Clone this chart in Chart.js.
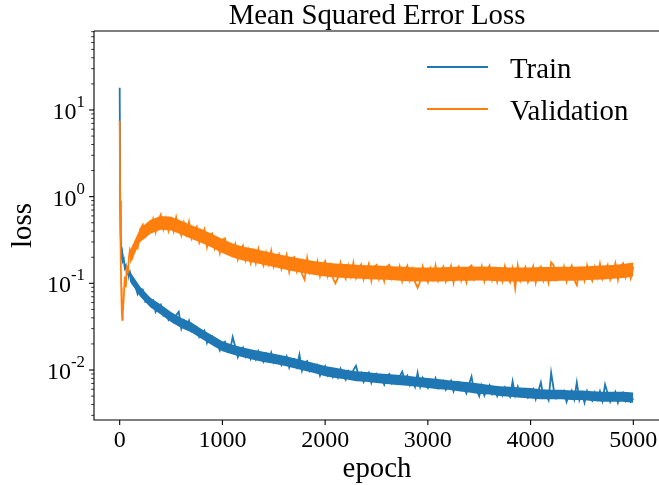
<!DOCTYPE html>
<html>
<head>
<meta charset="utf-8">
<script src="https://cdn.jsdelivr.net/npm/chart.js@4/dist/chart.umd.min.js"></script>
<style>
    body { margin: 0; background: #ffffff; }
    canvas { display: block; }
</style>
</head>
<body>
<canvas id="lossChart" width="659" height="485"></canvas>
<script>
// Epochs: dense at the start, then every 25 epochs
const earlyEpochs = [0, 5, 10, 15, 20, 25, 30, 40, 50, 60, 70, 80, 90];
const epochs = [...earlyEpochs];
for (let e = 100; e <= 5000; e += 25) epochs.push(e);

// noise band edges are read every 100 epochs
const bandEpochs = [];
for (let e = 100; e <= 5000; e += 100) bandEpochs.push(e);

const trainLoss = [
    18, 0.9, 0.35, 0.26, 0.21, 0.22, 0.18, 0.19, 0.15, 0.16, 0.13, 0.145, 0.12,
    0.134, 0.098, 0.095, 0.075, 0.086, 0.085, 0.061, 0.062,
    0.057, 0.063, 0.047, 0.053, 0.057, 0.043, 0.048, 0.038,
    0.043, 0.036, 0.043, 0.047, 0.030, 0.037, 0.031, 0.037,
    0.028, 0.030, 0.031, 0.024, 0.026, 0.0285, 0.0206, 0.0246,
    0.0246, 0.0193, 0.0200, 0.0168, 0.0203, 0.0212, 0.0162, 0.0171,
    0.0240, 0.0186, 0.0141, 0.0166, 0.0182, 0.0143, 0.0164, 0.0134,
    0.0158, 0.0132, 0.0165, 0.0138, 0.0124, 0.0153, 0.0128, 0.0158,
    0.0122, 0.0137, 0.0145, 0.0114, 0.0127, 0.0144, 0.0107, 0.0131,
    0.0134, 0.0109, 0.0150, 0.0098, 0.0121, 0.0127, 0.0097, 0.0104,
    0.0100, 0.0113, 0.0086, 0.0101, 0.0111, 0.0087, 0.0101, 0.0083,
    0.0098, 0.0082, 0.0103, 0.0086, 0.0077, 0.0096, 0.0081, 0.0100,
    0.0112, 0.0087, 0.0093, 0.0073, 0.0082, 0.0093, 0.0071, 0.0087,
    0.0091, 0.0074, 0.0080, 0.0068, 0.0085, 0.0090, 0.0070, 0.0075,
    0.0073, 0.0084, 0.0096, 0.0077, 0.0086, 0.0067, 0.0078, 0.0064,
    0.0093, 0.0064, 0.0081, 0.0068, 0.0062, 0.0076, 0.0065, 0.0080,
    0.0062, 0.0070, 0.0075, 0.0059, 0.0066, 0.0075, 0.0057, 0.0070,
    0.0073, 0.0059, 0.0064, 0.0054, 0.0068, 0.0084, 0.0056, 0.0059,
    0.0050, 0.0066, 0.0051, 0.0060, 0.0067, 0.0053, 0.0061, 0.0050,
    0.0060, 0.0051, 0.0063, 0.0054, 0.0049, 0.0074, 0.0051, 0.0064,
    0.0050, 0.0056, 0.0060, 0.0048, 0.0052, 0.0060, 0.0046, 0.0057,
    0.0072, 0.0049, 0.0052, 0.0045, 0.0093, 0.0060, 0.0047, 0.0050,
    0.0049, 0.0057, 0.0043, 0.0052, 0.0058, 0.0046, 0.0072, 0.0045,
    0.0054, 0.0042, 0.0057, 0.0048, 0.0044, 0.0055, 0.0046, 0.0057,
    0.0044, 0.0068, 0.0054, 0.0043, 0.0049, 0.0056, 0.0042, 0.0052,
    0.0055, 0.0044, 0.0050, 0.0043, 0.0047
];

const validationLoss = [
    7.5, 0.6, 0.2, 0.09, 0.05, 0.038, 0.045, 0.07, 0.12, 0.09, 0.16, 0.13, 0.2,
    0.244, 0.20, 0.29, 0.256, 0.42, 0.475, 0.35, 0.42,
    0.41, 0.55, 0.39, 0.53, 0.62, 0.425, 0.56, 0.405,
    0.54, 0.40, 0.58, 0.43, 0.356, 0.50, 0.37, 0.51,
    0.33, 0.40, 0.45, 0.295, 0.35, 0.42, 0.264, 0.365,
    0.378, 0.252, 0.305, 0.224, 0.319, 0.331, 0.224, 0.245,
    0.221, 0.282, 0.189, 0.243, 0.273, 0.185, 0.242, 0.173,
    0.231, 0.171, 0.250, 0.190, 0.160, 0.225, 0.168, 0.237,
    0.157, 0.194, 0.218, 0.146, 0.175, 0.215, 0.136, 0.192,
    0.201, 0.137, 0.169, 0.128, 0.110, 0.195, 0.132, 0.149,
    0.138, 0.179, 0.121, 0.159, 0.180, 0.122, 0.160, 0.115,
    0.100, 0.116, 0.172, 0.132, 0.113, 0.160, 0.121, 0.173,
    0.116, 0.144, 0.165, 0.111, 0.135, 0.167, 0.107, 0.153,
    0.163, 0.112, 0.140, 0.106, 0.156, 0.164, 0.113, 0.127,
    0.120, 0.156, 0.106, 0.139, 0.159, 0.109, 0.143, 0.103,
    0.089, 0.105, 0.156, 0.121, 0.103, 0.147, 0.112, 0.160,
    0.108, 0.135, 0.155, 0.105, 0.128, 0.159, 0.102, 0.146,
    0.157, 0.108, 0.135, 0.103, 0.152, 0.161, 0.111, 0.126,
    0.120, 0.156, 0.106, 0.139, 0.160, 0.110, 0.143, 0.104,
    0.141, 0.106, 0.157, 0.121, 0.103, 0.147, 0.088, 0.160,
    0.108, 0.135, 0.154, 0.104, 0.127, 0.157, 0.102, 0.145,
    0.156, 0.108, 0.134, 0.102, 0.175, 0.160, 0.110, 0.125,
    0.119, 0.155, 0.106, 0.139, 0.160, 0.110, 0.095, 0.150,
    0.143, 0.108, 0.161, 0.124, 0.107, 0.153, 0.117, 0.168,
    0.114, 0.142, 0.163, 0.111, 0.136, 0.170, 0.110, 0.157,
    0.170, 0.118, 0.148, 0.114, 0.155
];

// upper / lower edges of the dense noise band, one value per 100 epochs
const trainBandTop = [
    0.137, 0.0912, 0.0684, 0.057, 0.0467, 0.0399, 0.0353, 0.0296, 0.0251, 0.0214,
    0.0196, 0.0182, 0.0171, 0.0162, 0.0154, 0.0146, 0.0137, 0.0128, 0.0120, 0.0111,
    0.0106, 0.0101, 0.0097, 0.0095, 0.0092, 0.0090, 0.0088, 0.0086, 0.0083, 0.0081,
    0.0079, 0.0076, 0.0074, 0.0072, 0.0070, 0.0067, 0.0065, 0.0064, 0.0063, 0.0062,
    0.0060, 0.0059, 0.0059, 0.0058, 0.0058, 0.0057, 0.0056, 0.0056, 0.0056, 0.0055
];
const trainBandBottom = [
    0.105, 0.070, 0.0525, 0.0438, 0.0359, 0.0306, 0.0271, 0.0228, 0.0193, 0.0165,
    0.0151, 0.0140, 0.0131, 0.0124, 0.0118, 0.0112, 0.0105, 0.0098, 0.0092, 0.0085,
    0.0081, 0.0078, 0.0074, 0.0073, 0.0071, 0.0069, 0.0067, 0.0066, 0.0064, 0.0062,
    0.0060, 0.0059, 0.0057, 0.0055, 0.0053, 0.0052, 0.0050, 0.0049, 0.0048, 0.0047,
    0.0046, 0.0046, 0.0046, 0.0045, 0.0045, 0.0044, 0.0043, 0.0043, 0.0043, 0.0042
];
const validationBandTop = [
    0.24, 0.432, 0.54, 0.60, 0.588, 0.528, 0.468, 0.42, 0.372, 0.324,
    0.288, 0.264, 0.252, 0.236, 0.222, 0.210, 0.198, 0.190, 0.180, 0.174,
    0.169, 0.167, 0.164, 0.162, 0.161, 0.158, 0.156, 0.154, 0.152, 0.152,
    0.152, 0.154, 0.155, 0.155, 0.156, 0.155, 0.154, 0.152, 0.152, 0.152,
    0.154, 0.154, 0.155, 0.155, 0.156, 0.158, 0.161, 0.163, 0.167, 0.174
];
const validationBandBottom = [
    0.166, 0.299, 0.374, 0.415, 0.407, 0.365, 0.324, 0.291, 0.257, 0.224,
    0.199, 0.183, 0.174, 0.164, 0.154, 0.145, 0.137, 0.131, 0.125, 0.120,
    0.117, 0.115, 0.114, 0.112, 0.111, 0.110, 0.108, 0.106, 0.105, 0.105,
    0.105, 0.106, 0.107, 0.107, 0.108, 0.107, 0.106, 0.105, 0.105, 0.105,
    0.106, 0.106, 0.107, 0.107, 0.108, 0.110, 0.111, 0.113, 0.115, 0.120
];

const xTicks = [0, 1000, 2000, 3000, 4000, 5000];
const yDecades = [-2, -1, 0, 1];
const seriesNames = ['Train', 'Validation'];
const seriesColors = ['#1f77b4', '#ff7f0e'];

const SERIF = "'Liberation Serif', 'Times New Roman', serif";

// matplotlib-like frame, ticks, labels and legend drawn around the chart area
const axesDecor = {
    id: 'axesDecor',
    afterDraw(chart) {
        const ctx = chart.ctx;
        const area = chart.chartArea;
        const xs = chart.scales.x;
        const ys = chart.scales.y;
        ctx.save();
        ctx.strokeStyle = '#000000';
        ctx.fillStyle = '#000000';

        // spines (right spine falls just outside the canvas)
        ctx.lineWidth = 1.1;
        ctx.beginPath();
        ctx.moveTo(area.left, area.top);
        ctx.lineTo(area.left, area.bottom);
        ctx.lineTo(area.right + 2, area.bottom);
        ctx.moveTo(area.left, area.top);
        ctx.lineTo(area.right + 2, area.top);
        ctx.stroke();

        // x ticks
        ctx.font = '24px ' + SERIF;
        ctx.textAlign = 'center';
        ctx.textBaseline = 'alphabetic';
        xTicks.forEach(v => {
            const x = xs.getPixelForValue(v);
            ctx.beginPath();
            ctx.moveTo(x, area.bottom);
            ctx.lineTo(x, area.bottom + 4.9);
            ctx.stroke();
            ctx.fillText(String(v), x, area.bottom + 27);
        });

        // y minor ticks
        ctx.lineWidth = 0.8;
        for (let p = -3; p <= 1; p++) {
            for (let m = 2; m <= 9; m++) {
                const v = m * Math.pow(10, p);
                if (v < ys.min || v > ys.max) continue;
                const y = ys.getPixelForValue(v);
                ctx.beginPath();
                ctx.moveTo(area.left - 2.8, y);
                ctx.lineTo(area.left, y);
                ctx.stroke();
            }
        }

        // y major ticks with 10^n labels
        ctx.lineWidth = 1.1;
        ctx.textAlign = 'left';
        const labelRight = 85;
        yDecades.forEach(p => {
            const y = ys.getPixelForValue(Math.pow(10, p));
            ctx.beginPath();
            ctx.moveTo(area.left - 4.9, y);
            ctx.lineTo(area.left, y);
            ctx.stroke();
            const sup = String(p);
            ctx.font = '16.8px ' + SERIF;
            const supW = ctx.measureText(sup).width;
            ctx.font = '24px ' + SERIF;
            const baseW = ctx.measureText('10').width;
            ctx.fillText('10', labelRight - supW - baseW, y + 9);
            ctx.font = '16.8px ' + SERIF;
            ctx.fillText(sup, labelRight - supW, y - 3);
        });

        // title and axis labels
        const cx = (area.left + 660) / 2;
        ctx.font = '28.8px ' + SERIF;
        ctx.textAlign = 'center';
        ctx.fillText('Mean Squared Error Loss', cx, 24);
        ctx.fillText('epoch', cx, 477);
        ctx.save();
        ctx.translate(31, (area.top + area.bottom) / 2);
        ctx.rotate(-Math.PI / 2);
        ctx.fillText('loss', 0, 0);
        ctx.restore();

        // legend
        const legendY = [67, 109];
        ctx.textAlign = 'left';
        seriesNames.forEach((name, i) => {
            ctx.strokeStyle = seriesColors[i];
            ctx.lineWidth = 1.8;
            ctx.beginPath();
            ctx.moveTo(427, legendY[i]);
            ctx.lineTo(488, legendY[i]);
            ctx.stroke();
            ctx.fillStyle = '#000000';
            ctx.fillText(name, 510, legendY[i] + 11);
        });
        ctx.restore();
    }
};

const toPoints = (xsArr, values) => values.map((v, i) => ({ x: xsArr[i], y: v }));

const bandEdge = (values, order) => ({
    data: toPoints(bandEpochs, values),
    borderColor: 'transparent',
    borderWidth: 0,
    pointRadius: 0,
    fill: false,
    order: order
});

const bandFill = (values, color, target, order) => ({
    data: toPoints(bandEpochs, values),
    borderColor: 'transparent',
    borderWidth: 0,
    pointRadius: 0,
    backgroundColor: color,
    fill: { target: target },
    order: order
});

const noisyLine = (name, values, color, order) => ({
    label: name,
    data: toPoints(epochs, values),
    borderColor: color,
    borderWidth: 1.8,
    pointRadius: 0,
    tension: 0,
    fill: false,
    order: order
});

new Chart(document.getElementById('lossChart').getContext('2d'), {
    type: 'line',
    data: {
        datasets: [
            bandEdge(trainBandBottom, 5),
            bandFill(trainBandTop, seriesColors[0], 0, 5),
            noisyLine(seriesNames[0], trainLoss, seriesColors[0], 4),
            bandEdge(validationBandBottom, 3),
            bandFill(validationBandTop, seriesColors[1], 3, 3),
            noisyLine(seriesNames[1], validationLoss, seriesColors[1], 2)
        ]
    },
    options: {
        responsive: false,
        animation: false,
        layout: { padding: { left: 94, top: 31, right: 0, bottom: 65 } },
        plugins: {
            legend: { display: false },
            tooltip: { enabled: false },
            title: { display: false }
        },
        scales: {
            x: { type: 'linear', min: -250, max: 5250, display: false },
            y: { type: 'logarithmic', min: 0.00265, max: 81.5, display: false }
        }
    },
    plugins: [axesDecor]
});
</script>
</body>
</html>
